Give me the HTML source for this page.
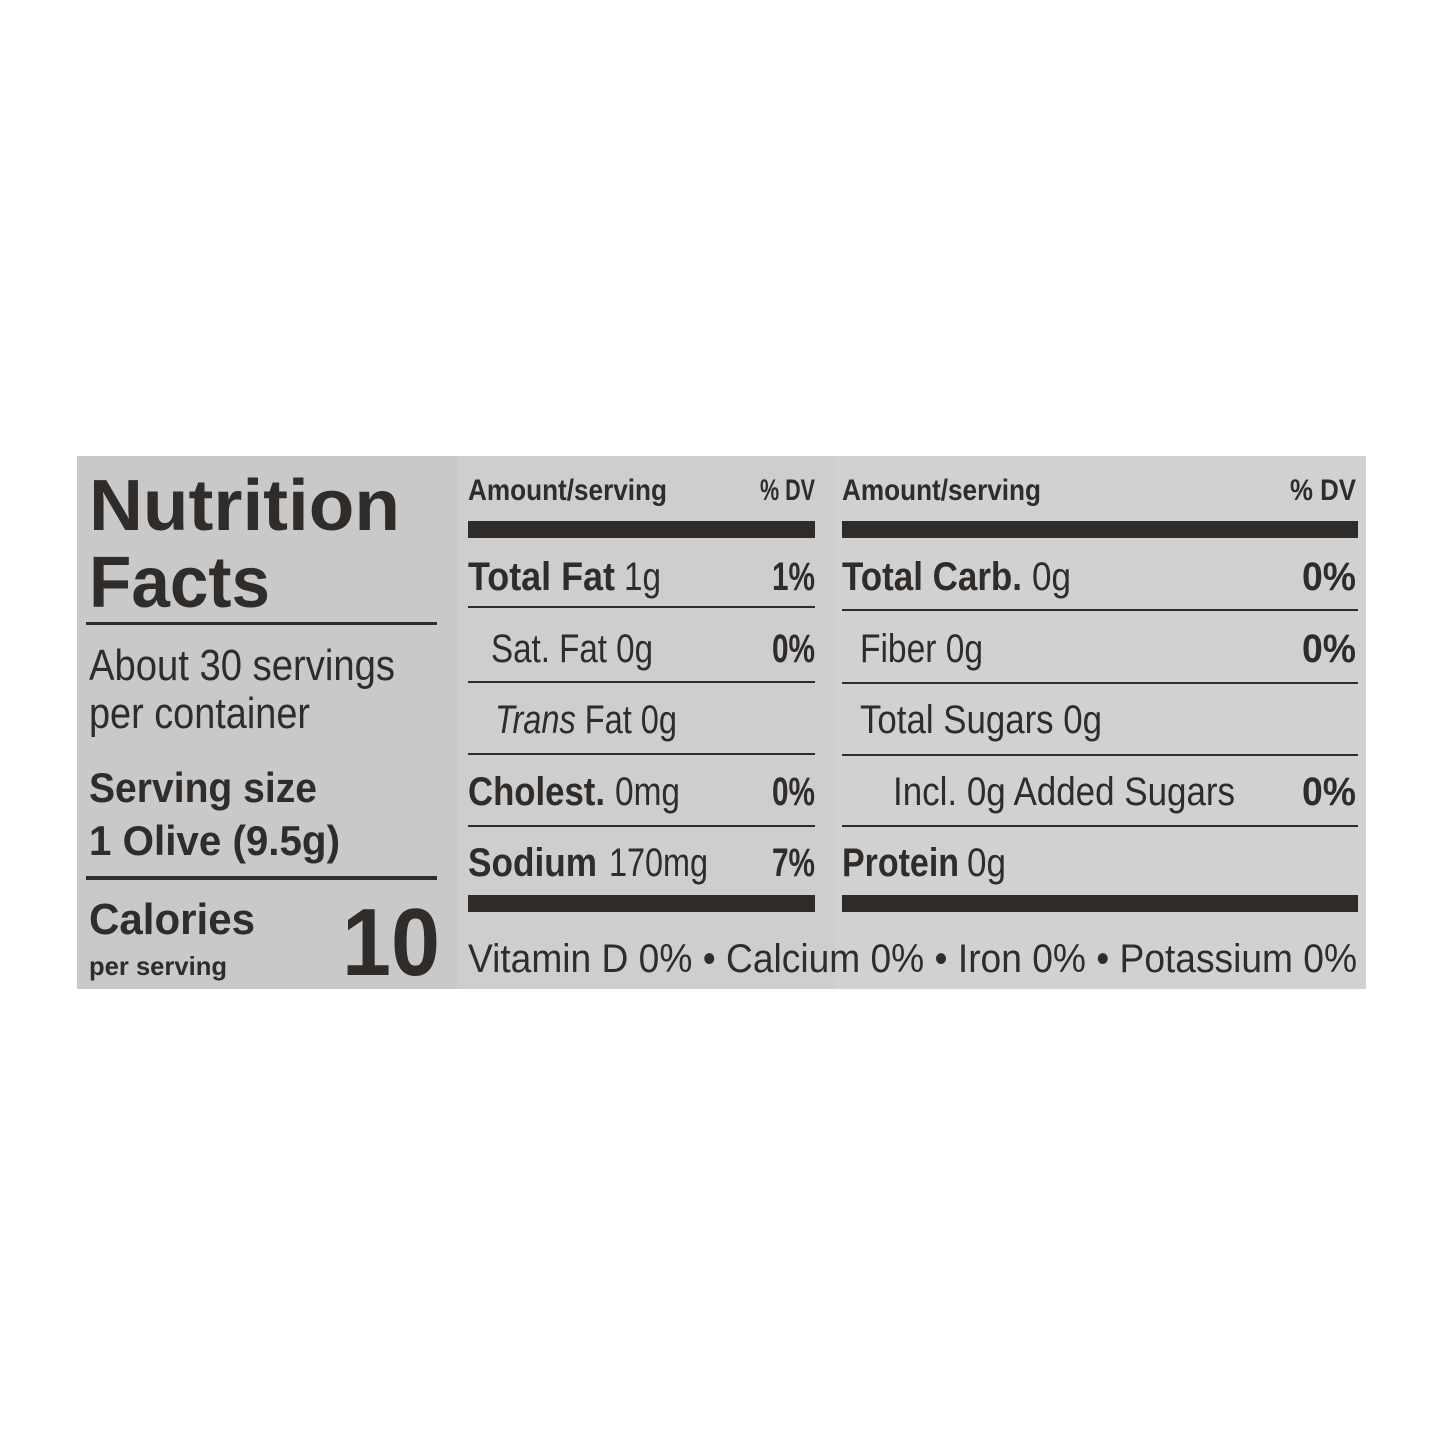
<!DOCTYPE html>
<html><head><style>
html,body{margin:0;padding:0;background:#fff;}
svg{display:block;}
text{font-family:"Liberation Sans",sans-serif;fill:#2f2c2a;}
.b{font-weight:bold;}
</style></head><body>
<svg width="1445" height="1445" viewBox="0 0 1445 1445" xmlns="http://www.w3.org/2000/svg">
<rect x="0" y="0" width="1445" height="1445" fill="#fff"/>
<rect x="77" y="456" width="1289" height="533" fill="#cecece"/>
<rect x="77" y="456" width="380" height="533" fill="#c9c9c9"/>
<rect x="835" y="456" width="531" height="533" fill="#d1d1d1"/>

<text class="b" x="89" y="530" font-size="72" textLength="311" lengthAdjust="spacingAndGlyphs">Nutrition</text>
<text class="b" x="89" y="607" font-size="72" textLength="181" lengthAdjust="spacingAndGlyphs">Facts</text>
<rect x="86" y="622" width="351" height="3" fill="#2f2c2a"/>
<text x="89" y="680" font-size="44" textLength="306" lengthAdjust="spacingAndGlyphs">About 30 servings</text>
<text x="89" y="728" font-size="44" textLength="221" lengthAdjust="spacingAndGlyphs">per container</text>
<text class="b" x="89" y="802" font-size="42" textLength="228" lengthAdjust="spacingAndGlyphs">Serving size</text>
<text class="b" x="89" y="855" font-size="42" textLength="251" lengthAdjust="spacingAndGlyphs">1 Olive (9.5g)</text>
<rect x="86" y="876" width="351" height="4" fill="#2f2c2a"/>
<text class="b" x="89" y="934" font-size="44" textLength="166" lengthAdjust="spacingAndGlyphs">Calories</text>
<text class="b" x="89" y="975" font-size="26" textLength="138" lengthAdjust="spacingAndGlyphs">per serving</text>
<text class="b" x="342" y="975" font-size="96" textLength="98" lengthAdjust="spacingAndGlyphs">10</text>

<!-- middle column -->
<text class="b" x="468" y="500" font-size="30" textLength="199" lengthAdjust="spacingAndGlyphs">Amount/serving</text>
<text class="b" x="760" y="500" font-size="30" textLength="55" lengthAdjust="spacingAndGlyphs">% DV</text>
<rect x="468" y="521" width="347" height="17" fill="#2f2c2a"/>
<text class="b" x="468" y="590" font-size="40" textLength="147" lengthAdjust="spacingAndGlyphs">Total Fat</text>
<text x="624" y="590" font-size="40" textLength="37" lengthAdjust="spacingAndGlyphs">1g</text>
<text class="b" x="772" y="590" font-size="40" textLength="43" lengthAdjust="spacingAndGlyphs">1%</text>
<rect x="468" y="606" width="347" height="2" fill="#2f2c2a"/>
<text x="491" y="662" font-size="40" textLength="162" lengthAdjust="spacingAndGlyphs">Sat. Fat 0g</text>
<text class="b" x="772" y="662" font-size="40" textLength="43" lengthAdjust="spacingAndGlyphs">0%</text>
<rect x="468" y="681" width="347" height="2" fill="#2f2c2a"/>
<text x="495" y="733" font-size="40" textLength="182" lengthAdjust="spacingAndGlyphs"><tspan font-style="italic">Trans</tspan> Fat 0g</text>
<rect x="468" y="753" width="347" height="2" fill="#2f2c2a"/>
<text class="b" x="468" y="805" font-size="40" textLength="137" lengthAdjust="spacingAndGlyphs">Cholest.</text>
<text x="615" y="805" font-size="40" textLength="65" lengthAdjust="spacingAndGlyphs">0mg</text>
<text class="b" x="772" y="805" font-size="40" textLength="43" lengthAdjust="spacingAndGlyphs">0%</text>
<rect x="468" y="825" width="347" height="2" fill="#2f2c2a"/>
<text class="b" x="468" y="876" font-size="40" textLength="129" lengthAdjust="spacingAndGlyphs">Sodium</text>
<text x="609" y="876" font-size="40" textLength="99" lengthAdjust="spacingAndGlyphs">170mg</text>
<text class="b" x="772" y="876" font-size="40" textLength="43" lengthAdjust="spacingAndGlyphs">7%</text>
<rect x="468" y="895" width="347" height="17" fill="#2f2c2a"/>

<!-- right column -->
<text class="b" x="842" y="500" font-size="30" textLength="199" lengthAdjust="spacingAndGlyphs">Amount/serving</text>
<text class="b" x="1290" y="500" font-size="30" textLength="66" lengthAdjust="spacingAndGlyphs">% DV</text>
<rect x="842" y="521" width="516" height="17" fill="#2f2c2a"/>
<text class="b" x="842" y="590" font-size="40" textLength="180" lengthAdjust="spacingAndGlyphs">Total Carb.</text>
<text x="1032" y="590" font-size="40" textLength="39" lengthAdjust="spacingAndGlyphs">0g</text>
<text class="b" x="1302" y="590" font-size="40" textLength="54" lengthAdjust="spacingAndGlyphs">0%</text>
<rect x="842" y="609" width="516" height="2" fill="#2f2c2a"/>
<text x="860" y="662" font-size="40" textLength="123" lengthAdjust="spacingAndGlyphs">Fiber 0g</text>
<text class="b" x="1302" y="662" font-size="40" textLength="54" lengthAdjust="spacingAndGlyphs">0%</text>
<rect x="842" y="682" width="516" height="2" fill="#2f2c2a"/>
<text x="860" y="733" font-size="40" textLength="242" lengthAdjust="spacingAndGlyphs">Total Sugars 0g</text>
<rect x="842" y="754" width="516" height="2" fill="#2f2c2a"/>
<text x="893" y="805" font-size="40" textLength="342" lengthAdjust="spacingAndGlyphs">Incl. 0g Added Sugars</text>
<text class="b" x="1302" y="805" font-size="40" textLength="54" lengthAdjust="spacingAndGlyphs">0%</text>
<rect x="842" y="825" width="516" height="2" fill="#2f2c2a"/>
<text class="b" x="842" y="876" font-size="40" textLength="117" lengthAdjust="spacingAndGlyphs">Protein</text>
<text x="967" y="876" font-size="40" textLength="39" lengthAdjust="spacingAndGlyphs">0g</text>
<rect x="842" y="895" width="516" height="17" fill="#2f2c2a"/>

<text x="468" y="972" font-size="40" textLength="889" lengthAdjust="spacingAndGlyphs">Vitamin D 0% • Calcium 0% • Iron 0% • Potassium 0%</text>
</svg>
</body></html>
